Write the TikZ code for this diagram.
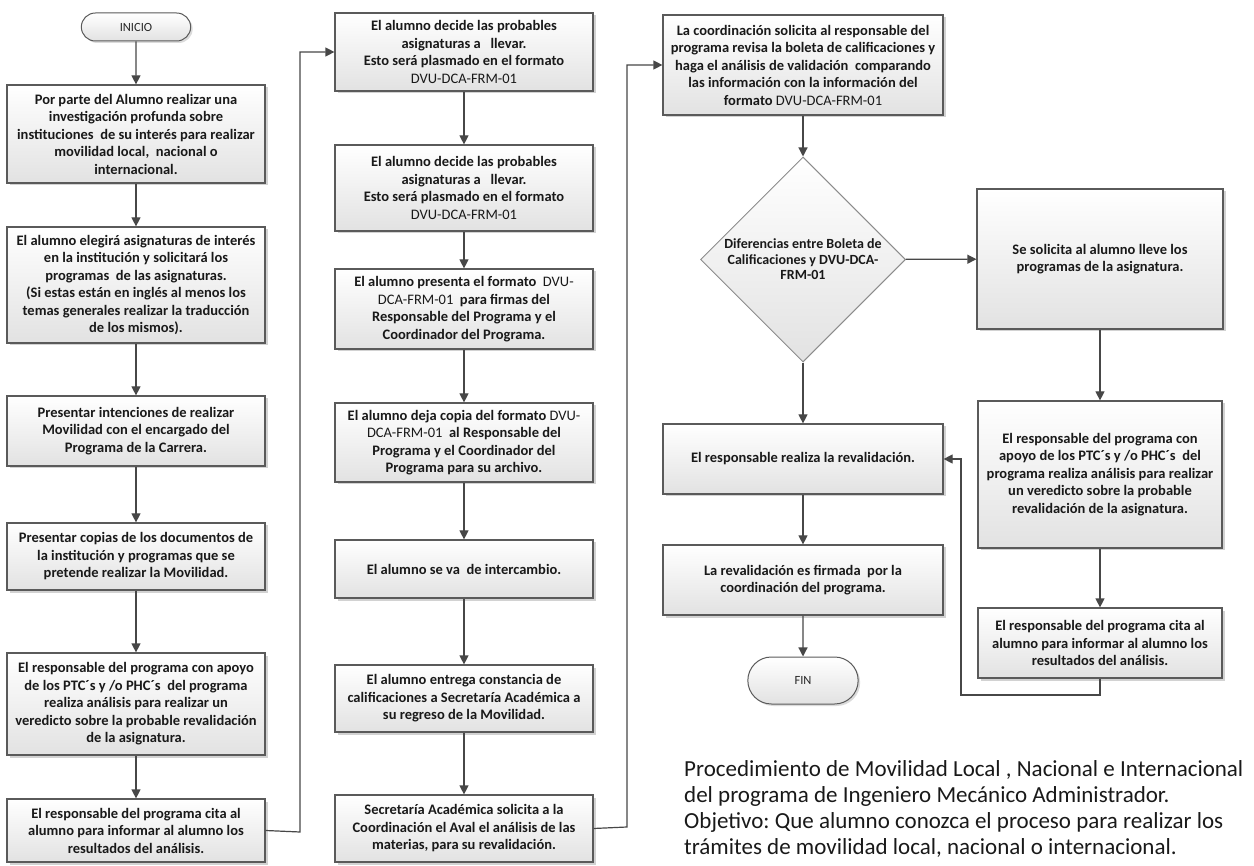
\documentclass[tikz,border=0pt]{standalone}
\usepackage{fontspec}
\setmainfont{Carlito}
\usetikzlibrary{shapes.geometric,shapes.misc,shadows,arrows.meta}
\frenchspacing

\definecolor{gris}{HTML}{474747}
\definecolor{borde}{HTML}{5A5A5A}
\definecolor{fondo}{HTML}{E2E2E2}
\newcommand{\frm}[1]{{\mdseries #1}}

\tikzset{
	caja/.style={draw=borde, line width=1.2pt, top color=white, bottom color=fondo,
		drop shadow={shadow xshift=2.5pt, shadow yshift=-2.5pt, fill=black!35, opacity=.5},
		align=center, inner sep=2pt, text=black!90,
		font=\fontsize{14.5}{17.5}\selectfont\bfseries},
	term/.style={rounded rectangle, draw=borde, line width=1pt, top color=white, bottom color=fondo,
		drop shadow={shadow xshift=2pt, shadow yshift=-2pt, fill=black!35, opacity=.4},
		font=\fontsize{12.5}{14}\selectfont, text=black!85},
	rombo/.style={diamond, draw=black!45, line width=1pt, top color=white, bottom color=fondo,
		align=center, inner sep=0pt, minimum size=205pt,
		font=\fontsize{14}{15.5}\selectfont\bfseries, text=black!90},
	flecha/.style={draw=gris, line width=1.2pt, -{Triangle[length=9pt,width=9pt]}},
	tramo/.style={draw=gris, line width=1.2pt}
}

\begin{document}
\begin{tikzpicture}[x=1pt,y=-1pt]
	\useasboundingbox (0,0) rectangle (1254,866);
	% primera columna
	\node[term, minimum width=116pt, minimum height=28pt] (ini) at (136,27) {INICIO};
	\node[caja, minimum width=258pt, minimum height=98pt] (a1) at (136,134) {Por parte del Alumno realizar una\\investigación profunda sobre\\instituciones~ de su interés para realizar\\movilidad local,~ nacional o\\internacional.};
	\node[caja, minimum width=258pt, minimum height=116pt] (a2) at (136,285) {El alumno elegirá asignaturas de interés\\en la institución y solicitará los\\programas~ de las asignaturas.\\(Si estas están en inglés al menos los\\temas generales realizar la traducción\\de los mismos).};
	\node[caja, minimum width=258pt, minimum height=70pt] (a3) at (136,431) {Presentar intenciones de realizar\\Movilidad con el encargado del\\Programa de la Carrera.};
	\node[caja, minimum width=258pt, minimum height=67pt] (a4) at (136,556.5) {Presentar copias de los documentos de\\la institución y programas que se\\pretende realizar la Movilidad.};
	\node[caja, minimum width=258pt, minimum height=102pt] (a5) at (136,704) {El responsable del programa con apoyo\\de los PTC´s y /o PHC´s~ del programa\\realiza análisis para realizar un\\veredicto sobre la probable revalidación\\de la asignatura.};
	\node[caja, minimum width=258pt, minimum height=63pt] (a6) at (136,830.5) {El responsable del programa cita al\\alumno para informar al alumno los\\resultados del análisis.};
	% segunda columna
	\node[caja, minimum width=258pt, minimum height=78pt] (b1) at (464,52) {El alumno decide las probables\\asignaturas a~~ llevar.\\Esto será plasmado en el formato\\\frm{DVU-DCA-FRM-01}};
	\node[caja, minimum width=258pt, minimum height=86pt] (b2) at (464,188) {El alumno decide las probables\\asignaturas a~~ llevar.\\Esto será plasmado en el formato\\\frm{DVU-DCA-FRM-01}};
	\node[caja, minimum width=258pt, minimum height=80pt] (b3) at (464,309) {El alumno presenta el formato~ \frm{DVU-}\\\frm{DCA-FRM-01}~ para firmas del\\Responsable del Programa y el\\Coordinador del Programa.};
	\node[caja, minimum width=258pt, minimum height=79pt] (b4) at (464,442.5) {El alumno deja copia del formato \frm{DVU-}\\\frm{DCA-FRM-01}~ al Responsable del\\Programa y el Coordinador del\\Programa para su archivo.};
	\node[caja, minimum width=258pt, minimum height=58pt] (b5) at (464,569) {El alumno se va~ de intercambio.};
	\node[caja, minimum width=258pt, minimum height=67pt] (b6) at (464,698.5) {El alumno entrega constancia de\\calificaciones a Secretaría Académica a\\su regreso de la Movilidad.};
	\node[caja, minimum width=258pt, minimum height=67pt] (b7) at (464,828.5) {Secretaría Académica solicita a la\\Coordinación el Aval el análisis de las\\materias, para su revalidación.};
	% tercera columna
	\node[caja, minimum width=280pt, minimum height=100pt] (c1) at (803,65) {La coordinación solicita al responsable del\\programa revisa la boleta de calificaciones y\\haga el análisis de validación~ comparando\\las información con la información del\\formato \frm{DVU-DCA-FRM-01}};
	\node[rombo] (d) at (803,259.5) {Diferencias entre Boleta de\\Calificaciones y DVU-DCA-\\FRM-01};
	\node[caja, minimum width=280pt, minimum height=70pt] (c2) at (803,459) {El responsable realiza la revalidación.};
	\node[caja, minimum width=280pt, minimum height=70pt] (c3) at (803,580) {La revalidación es firmada~ por la\\coordinación del programa.};
	\node[term, minimum width=117pt, minimum height=47pt] (fin) at (803,680.5) {FIN};
	% cuarta columna
	\node[caja, minimum width=246pt, minimum height=140pt] (e1) at (1100,259) {Se solicita al alumno lleve los\\programas de la asignatura.};
	\node[caja, minimum width=244pt, minimum height=147pt] (e2) at (1100,474.5) {El responsable del programa con\\apoyo de los PTC´s y /o PHC´s~ del\\programa realiza análisis para realizar\\un veredicto sobre la probable\\revalidación de la asignatura.};
	\node[caja, minimum width=244pt, minimum height=70pt] (e3) at (1100,643) {El responsable del programa cita al\\alumno para informar al alumno los\\resultados del análisis.};
	% nota
	\node[anchor=north west, align=left, inner sep=0pt, font=\fontsize{23}{26}\selectfont, text=black!90] (nota) at (684,760) {Procedimiento de Movilidad Local , Nacional e Internacional\\del programa de Ingeniero Mecánico Administrador.\\Objetivo: Que alumno conozca el proceso para realizar los\\trámites de movilidad local, nacional o internacional.};
	% conexiones
	\coordinate (j1) at (300,832);
	\coordinate (j2) at (627,827);
	\coordinate (j3) at (961,695);
	\draw[flecha] (ini) -- (a1);
	\draw[flecha] (a1) -- (a2);
	\draw[flecha] (a2) -- (a3);
	\draw[flecha] (a3) -- (a4);
	\draw[flecha] (a4) -- (a5);
	\draw[flecha] (a5) -- (a6);
	\draw[flecha] (a6.east) -- (j1) |- (b1.west);
	\draw[flecha] (b1) -- (b2);
	\draw[flecha] (b2) -- (b3);
	\draw[flecha] (b3) -- (b4);
	\draw[flecha] (b4) -- (b5);
	\draw[flecha] (b5) -- (b6);
	\draw[flecha] (b6) -- (b7);
	\draw[flecha] (b7.east) -- (j2) |- (c1.west);
	\draw[flecha] (c1) -- (d);
	\draw[flecha] (d) -- (c2);
	\draw[flecha] (c2) -- (c3);
	\draw[flecha] (c3) -- (fin);
	\draw[flecha] (d) -- (e1);
	\draw[flecha] (e1) -- (e2);
	\draw[flecha] (e2) -- (e3);
	\draw[flecha] (e3.south) |- (j3) |- (c2.east);
\end{tikzpicture}
\end{document}
